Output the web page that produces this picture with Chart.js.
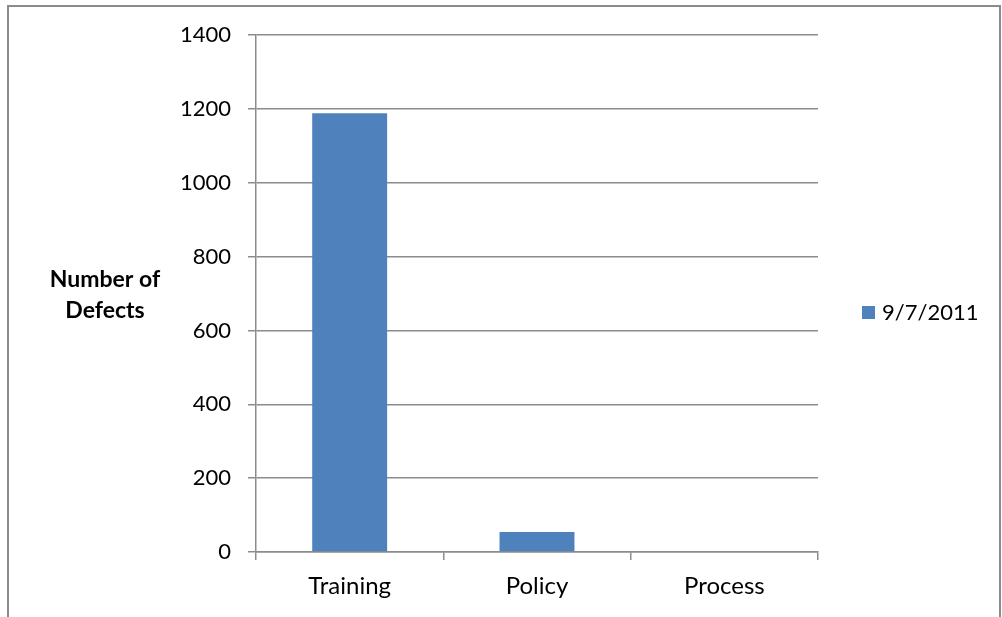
<!DOCTYPE html>
<html>
<head>
<meta charset="utf-8">
<script src="https://cdn.jsdelivr.net/npm/chart.js@4.4.1/dist/chart.umd.min.js"></script>
<style>
  html, body { margin: 0; padding: 0; background: #fff; }
  #wrap { position: relative; width: 1002px; height: 617px; }
</style>
</head>
<body>
<div id="wrap"><canvas id="barChart"></canvas></div>
<script>
const categories = ['Training', 'Policy', 'Process'];
const seriesLabel = '9/7/2011';
const defects = [1188, 54, 0];
const yTitle = ['Number of', 'Defects'];

const FONT = 'Lato, "Open Sans", sans-serif';
const GRID = '#8c8c8c';
const BAR = '#4f81bd';

// frame, y title and legend drawn by hand
const extras = {
    id: 'extras',
    beforeDraw(chart) {
        const c = chart.ctx;
        c.save();
        c.strokeStyle = GRID;
        c.lineWidth = 2;
        c.beginPath();
        c.moveTo(8, 617);
        c.lineTo(8, 6);
        c.lineTo(1000, 6);
        c.lineTo(1000, 617);
        c.stroke();
        c.restore();
    },
    afterDraw(chart) {
        const c = chart.ctx;
        c.save();
        c.fillStyle = '#000';
        c.font = 'bold 23px ' + FONT;
        c.textAlign = 'center';
        c.textBaseline = 'middle';
        c.fillText(yTitle[0], 105, 280);
        c.fillText(yTitle[1], 105, 311);

        const ds = chart.data.datasets[0];
        c.fillStyle = ds.backgroundColor;
        c.fillRect(862, 306, 13, 13);
        c.fillStyle = '#000';
        c.font = '22px ' + FONT;
        c.textAlign = 'left';
        c.fillText(ds.label, 882, 313);
        c.restore();
    }
};

const ctx = document.getElementById('barChart');

new Chart(ctx, {
    type: 'bar',
    data: {
        labels: categories,
        datasets: [{
            label: seriesLabel,
            data: defects,
            backgroundColor: BAR,
            borderWidth: 0,
            barPercentage: 0.4,
            categoryPercentage: 1
        }]
    },
    options: {
        responsive: true,
        maintainAspectRatio: false,
        animation: false,
        layout: {
            padding: { left: 156, right: 184, top: 35, bottom: 5 }
        },
        plugins: {
            legend: { display: false },
            tooltip: { enabled: false }
        },
        scales: {
            x: {
                afterFit: s => { s.height = 60; },
                grid: {
                    offset: true,
                    drawOnChartArea: false,
                    drawTicks: true,
                    tickLength: 8,
                    color: GRID,
                    lineWidth: 1.5
                },
                border: { color: GRID, width: 1.5 },
                ticks: {
                    color: '#000',
                    padding: 12,
                    font: { family: FONT, size: 24 }
                }
            },
            y: {
                min: 0,
                max: 1400,
                afterFit: s => { s.width = 100; },
                grid: {
                    color: GRID,
                    lineWidth: 1.5,
                    tickLength: 8
                },
                border: { color: GRID, width: 1.5 },
                ticks: {
                    stepSize: 200,
                    color: '#000',
                    padding: 17,
                    font: { family: FONT, size: 22 },
                    callback: v => String(v)
                }
            }
        }
    },
    plugins: [extras]
});
</script>
</body>
</html>
